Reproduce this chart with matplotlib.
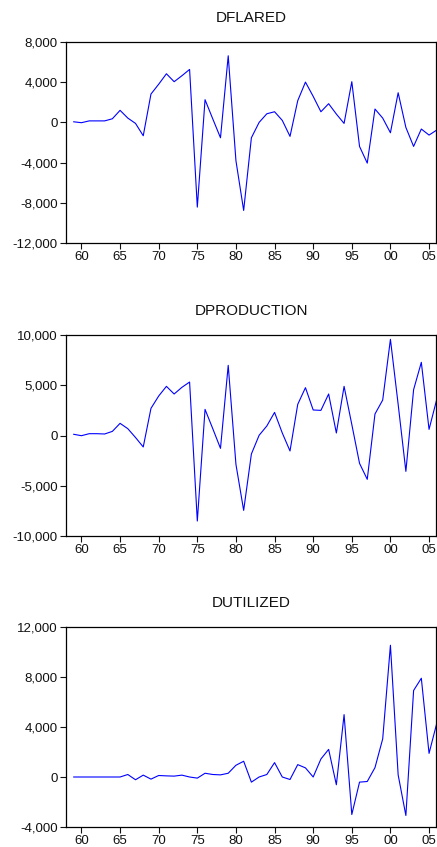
import numpy as np
import matplotlib
matplotlib.use("Agg")
import matplotlib.pyplot as plt
from matplotlib.ticker import FuncFormatter

plt.rcParams['font.family'] = ['Liberation Sans', 'DejaVu Sans']

years = list(range(1959, 2007))

dflared = [60, -30, 150, 150, 150, 360, 1200, 430, -100, -1330,
           2820, 3800, 4840, 4050, 4640, 5270, -8430, 2260, 350, -1530,
           6630, -3810, -8760, -1530, 0, 860, 1060, 200, -1390, 2160,
           4010, 2590, 1060, 1860, 830, -100, 4050, -2390, -4050, 1330,
           430, -1030, 2950, -500, -2390, -660, -1260, -760]

dproduction = [120, -20, 180, 180, 150, 410, 1210, 680, -200, -1140,
               2700, 3930, 4890, 4130, 4790, 5320, -8510, 2600, 680, -1280,
               6980, -2870, -7450, -1840, 20, 950, 2300, 250, -1540, 3100,
               4760, 2540, 2500, 4130, 250, 4890, 1100, -2770, -4360, 2140,
               3530, 9570, 3100, -3570, 4560, 7280, 610, 3600]

dutilized = [0, 0, 0, 0, 0, 0, 0, 200, -220, 150,
             -170, 120, 90, 70, 150, 0, -90, 300, 200, 170,
             300, 940, 1260, -410, 0, 200, 1150, 0, -200, 990,
             730, 0, 1440, 2210, -620, 4990, -3000, -410, -360, 750,
             3050, 10540, 170, -3080, 6920, 7900, 1890, 4300]

titles = ["DFLARED", "DPRODUCTION", "DUTILIZED"]
series = [dflared, dproduction, dutilized]
ylims = [(-12000, 8000), (-10000, 10000), (-4000, 12000)]
yticks = [[-12000, -8000, -4000, 0, 4000, 8000],
          [-10000, -5000, 0, 5000, 10000],
          [-4000, 0, 4000, 8000, 12000]]
xticks = list(range(1960, 2006, 5))
xlabels = ["%02d" % (y % 100) for y in xticks]

W, H = 437, 847
fig = plt.figure(figsize=(W / 100, H / 100), dpi=100)

# axes boxes in pixels: (top, bottom)
boxes = [(42, 243), (335, 536), (627, 827)]
left, right = 66, 436

for (top, bot), title, vals, yl, yt in zip(boxes, titles, series, ylims, yticks):
    ax = fig.add_axes([left / W, 1 - bot / H, (right - left) / W, (bot - top) / H])
    ax.plot(years, vals, color="#0000ff", lw=0.8)
    ax.set_xlim(1958, 2005.9)
    ax.set_ylim(*yl)
    ax.set_yticks(yt)
    ax.yaxis.set_major_formatter(FuncFormatter(lambda v, p: "{:,.0f}".format(v)))
    ax.set_xticks(xticks)
    ax.set_xticklabels(xlabels)
    ax.tick_params(direction="out", length=4, width=0.8, labelsize=9.5, pad=2, colors="#111111")
    for s in ax.spines.values():
        s.set_linewidth(0.9)
    ax.set_title(title, fontsize=11, pad=14.5, color="#111111")

fig.savefig("out.png", dpi=100)
